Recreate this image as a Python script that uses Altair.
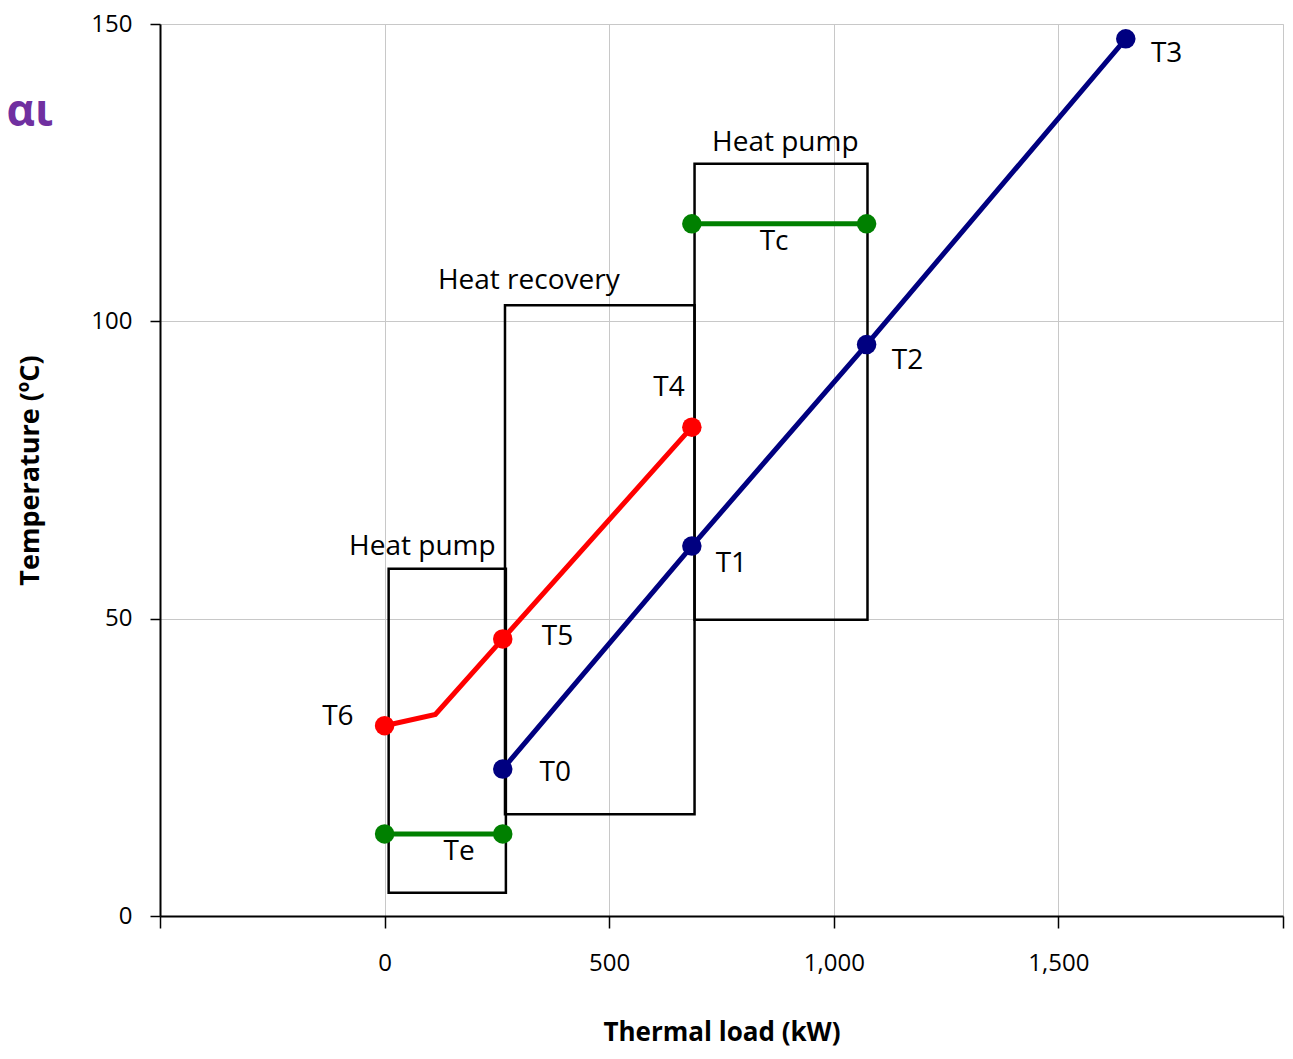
import altair as alt
import pandas as pd

# Blue process line (T0..T3)
blue_x = [263, 684, 1073, 1650]
blue_y = [24.7, 62.2, 96.1, 147.5]
blue_lbl = ["T0", "T1", "T2", "T3"]

# Red line (T6, kink, T5, T4)
red_x = [0, 113, 263, 684]
red_y = [32.0, 33.9, 46.6, 82.2]
red_marker = [True, False, True, True]

# Green isotherms
te_x = [0, 263]
te_y = [13.8, 13.8]
tc_x = [684, 1073]
tc_y = [116.4, 116.4]

# Boxes
box_x1 = [9, 268, 690]
box_x2 = [270, 690, 1075]
box_y1 = [3.9, 17.1, 49.8]
box_y2 = [58.4, 102.7, 126.5]

# Box labels
box_lbl = ["Heat pump", "Heat recovery", "Heat pump"]
box_lbl_x = [84, 321, 892]
box_lbl_y = [62.1, 106.7, 130.0]

# Point labels
pt_lbl = ["T0", "T1", "T2", "T3", "T4", "T5", "T6", "Te", "Tc"]
pt_lbl_x = [380, 772, 1164, 1741, 633, 385, -104, 166, 867]
pt_lbl_y = [24.0, 59.2, 93.3, 145.0, 88.8, 47.0, 33.4, 10.7, 113.4]

FONT = "Open Sans"

xs = alt.Scale(domain=[-500, 2000], nice=False, zero=False)
ys = alt.Scale(domain=[0, 150], nice=False)

lines = []
for i in range(len(blue_x)):
    lines.append({"x": blue_x[i], "y": blue_y[i], "s": "blue", "o": i, "m": True})
for i in range(len(red_x)):
    lines.append({"x": red_x[i], "y": red_y[i], "s": "red", "o": i, "m": red_marker[i]})
for i in range(len(te_x)):
    lines.append({"x": te_x[i], "y": te_y[i], "s": "te", "o": i, "m": True})
for i in range(len(tc_x)):
    lines.append({"x": tc_x[i], "y": tc_y[i], "s": "tc", "o": i, "m": True})
ldf = pd.DataFrame(lines)

cscale = alt.Scale(domain=["blue", "red", "te", "tc"],
                   range=["#000080", "#FF0000", "#008000", "#008000"])

x_axis = alt.Axis(
    values=[-500, 0, 500, 1000, 1500, 2000],
    labelExpr="(datum.value < 0 || datum.value > 1500) ? '' : format(datum.value, ',d')",
    title="Thermal load (kW)", grid=True, gridColor="#c8c8c8", gridWidth=1,
    tickSize=12, tickColor="black", tickWidth=1.5,
    labelPadding=23, labelFontSize=24, labelFont=FONT, labelColor="black",
    titleFontSize=26, titleFont=FONT, titleFontWeight="bold", titlePadding=44,
    domainColor="black", domainWidth=2,
)
y_axis = alt.Axis(
    values=[0, 50, 100, 150],
    title="Temperature (ºC)", grid=True, gridColor="#c8c8c8", gridWidth=1,
    tickSize=10, tickColor="black", tickWidth=1.5,
    labelPadding=18, labelFontSize=24, labelFont=FONT, labelColor="black",
    titleFontSize=27, titleFont=FONT, titleFontWeight="bold", titlePadding=46,
    domainColor="black", domainWidth=2,
)

base = alt.Chart(ldf)

line_layer = base.mark_line(strokeWidth=5).encode(
    x=alt.X("x:Q", scale=xs, axis=x_axis),
    y=alt.Y("y:Q", scale=ys, axis=y_axis),
    color=alt.Color("s:N", scale=cscale, legend=None),
    detail="s:N",
    order="o:Q",
)
pt_layer = base.transform_filter("datum.m").mark_circle(size=380, opacity=1).encode(
    x="x:Q", y="y:Q",
    color=alt.Color("s:N", scale=cscale, legend=None),
)

bdf = pd.DataFrame({"x1": box_x1, "x2": box_x2, "y1": box_y1, "y2": box_y2})
box_layer = alt.Chart(bdf).mark_rect(fillOpacity=0, fill="white", stroke="black", strokeWidth=2.5).encode(
    x="x1:Q", x2="x2:Q", y="y1:Q", y2="y2:Q"
)

bl = pd.DataFrame({"t": box_lbl, "x": box_lbl_x, "y": box_lbl_y})
bl_layer = alt.Chart(bl).mark_text(fontSize=28, font=FONT, color="black",
                                   align="center", baseline="middle").encode(
    x="x:Q", y="y:Q", text="t:N"
)

pl = pd.DataFrame({"t": pt_lbl, "x": pt_lbl_x, "y": pt_lbl_y})
pl_layer = alt.Chart(pl).mark_text(fontSize=28, font=FONT, color="black",
                                   align="center", baseline="middle").encode(
    x="x:Q", y="y:Q", text="t:N"
)

stray = pd.DataFrame({"t": ["αι"], "x": [-790], "y": [135]})
stray_layer = alt.Chart(stray).mark_text(fontSize=44, font=FONT, color="#7030A0",
                                         fontWeight="bold", align="center", baseline="middle",
                                         clip=False).encode(
    x="x:Q", y="y:Q", text="t:N"
)

chart = alt.layer(
    box_layer, line_layer, pt_layer, bl_layer, pl_layer, stray_layer
).properties(
    width=1123, height=892,
    autosize=alt.AutoSizeParams(type="none"),
    padding={"left": 152, "top": 16, "right": 2, "bottom": 135},
).configure_view(
    stroke="black", strokeWidth=2
).configure(background="white")

chart.save("out.html", embed_options={"renderer": "svg", "actions": False})
